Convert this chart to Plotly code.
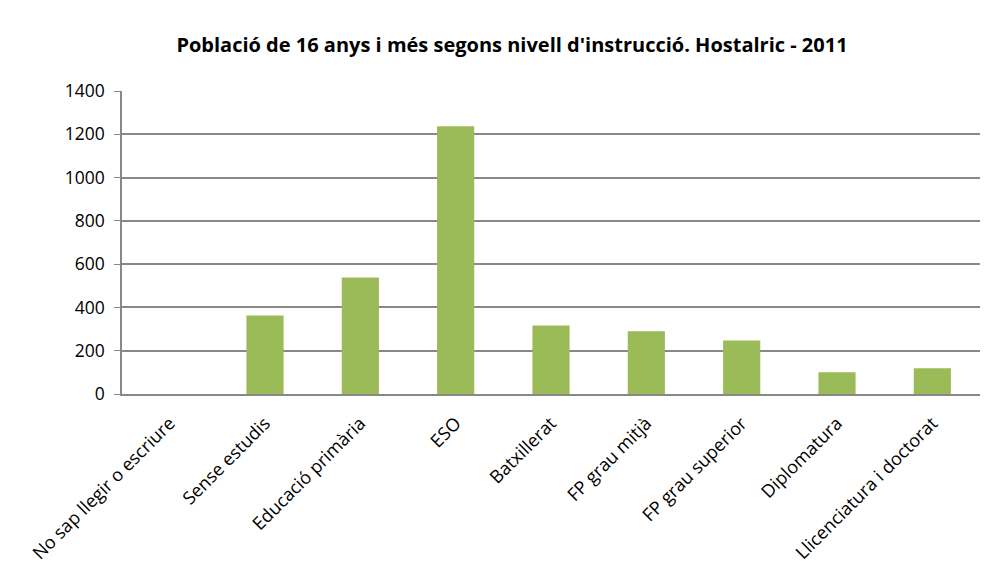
import plotly.graph_objects as go

categories = ["No sap llegir o escriure", "Sense estudis", "Educació primària", "ESO",
              "Batxillerat", "FP grau mitjà", "FP grau superior", "Diplomatura",
              "Llicenciatura i doctorat"]
values = [0, 363, 538, 1237, 316, 290, 247, 100, 119]
y_ticks = [0, 200, 400, 600, 800, 1000, 1200, 1400]

title_text = "Població de 16 anys i més segons nivell d'instrucció. Hostalric - 2011"

W, H = 999, 576  # page body has an 8px margin in the browser

fig = go.Figure()
fig.add_trace(go.Bar(
    x=categories, y=values,
    marker=dict(color="#9BBB59", line=dict(width=0)),
    width=0.39,
))

fig.update_layout(
    width=W, height=H,
    paper_bgcolor="white", plot_bgcolor="white",
    margin=dict(l=114, r=27, t=83, b=190),
    title=dict(text=title_text, x=(512 - 8) / W, xanchor="center", y=1 - 37 / H, yanchor="middle",
               font=dict(family="Open Sans, sans-serif", size=20, color="#000000", weight="bold")),
    font=dict(family="Open Sans, sans-serif", size=18, color="#000000"),
    showlegend=False,
)
fig.update_xaxes(
    tickangle=-45, showgrid=False, showline=True, linecolor="#888888", linewidth=1.5,
    tickfont=dict(size=18), ticks="", automargin=False, ticklabelstandoff=10,
)
fig.update_yaxes(
    range=[0, 1400], tickvals=y_ticks, ticktext=[str(v) for v in y_ticks],
    showgrid=True, gridcolor="#888888", gridwidth=1.5,
    showline=True, linecolor="#888888", linewidth=1.5,
    ticks="outside", ticklen=6, tickcolor="#888888", tickfont=dict(size=17.5),
    ticklabelstandoff=6,
    zeroline=False, automargin=False,
)
fig.write_html("out.html")
